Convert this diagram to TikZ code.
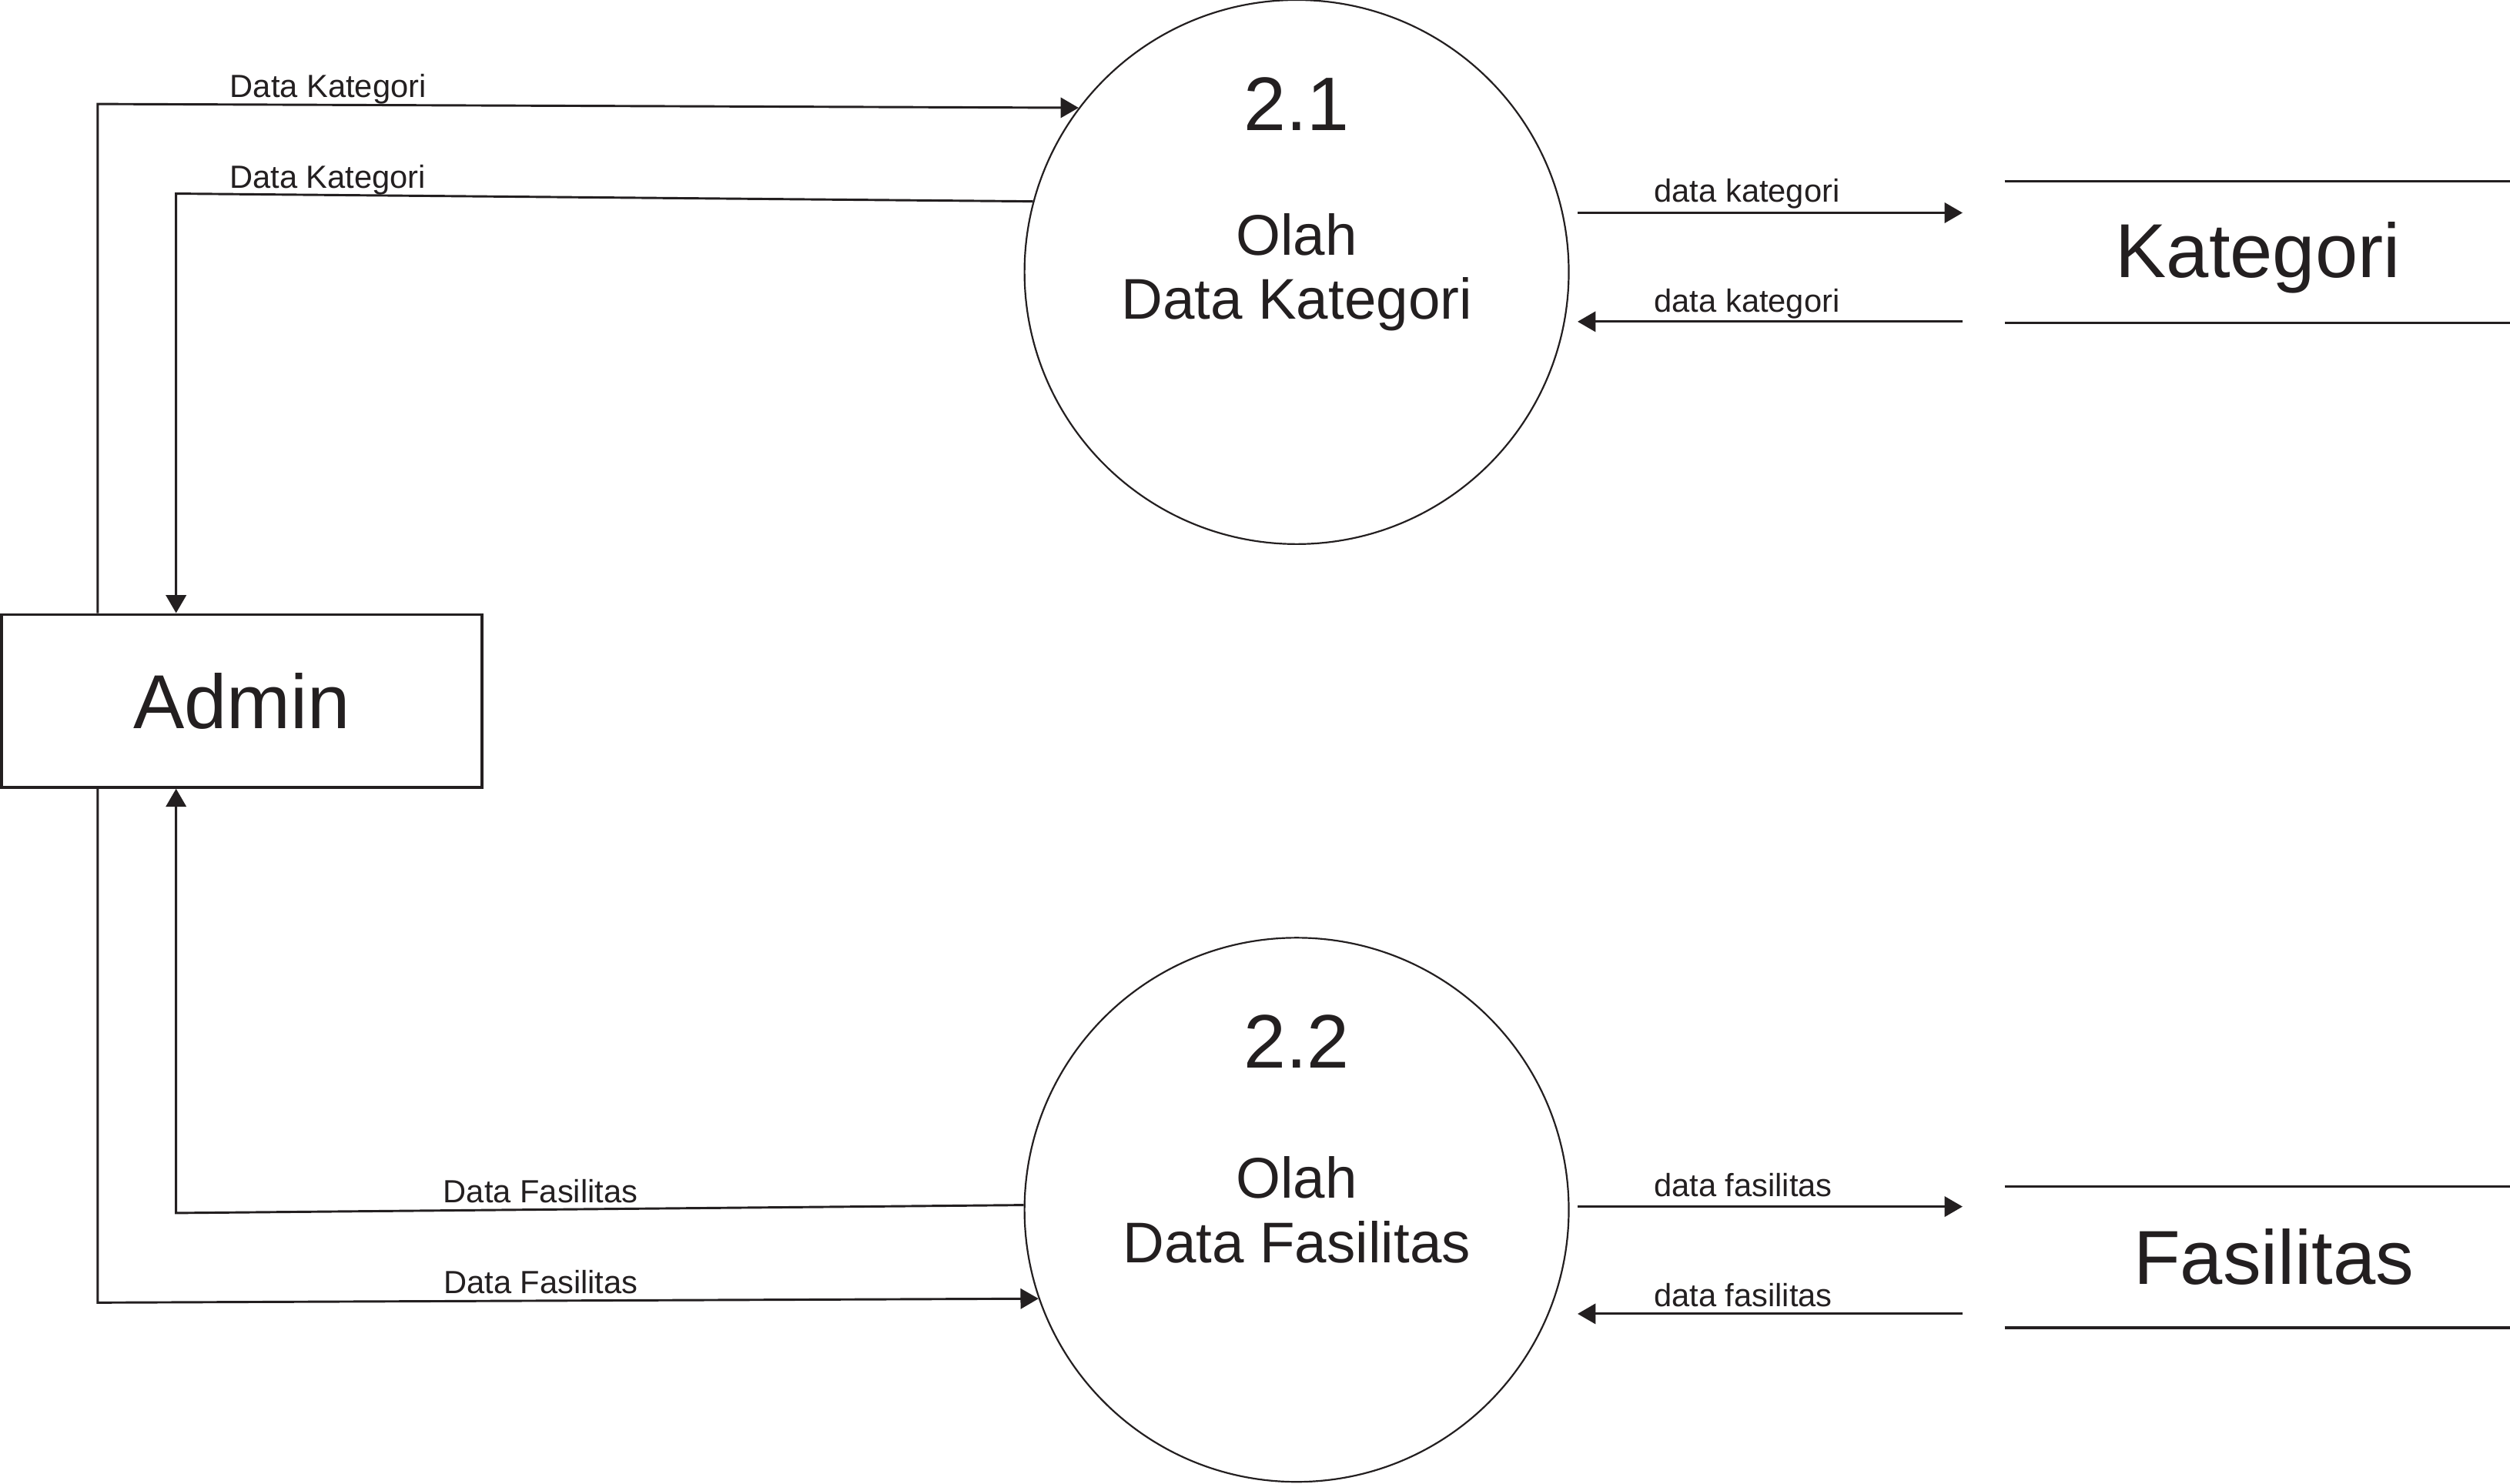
\documentclass[tikz,border=0pt]{standalone}
\usepackage{fontspec}
\setmainfont{Liberation Sans}
\usepackage{tikz}
\usetikzlibrary{arrows.meta}
\definecolor{ink}{HTML}{231F20}

\begin{document}
\begin{tikzpicture}[
	process/.style={circle, draw=ink, line width=0.3pt, minimum size=3.4cm, inner sep=0pt, align=center, text=ink, font=\fontsize{10.2}{11.4}\selectfont},
	entity/.style={rectangle, draw=ink, line width=0.5pt, minimum width=3cm, minimum height=1.08cm, text=ink, font=\fontsize{13.6}{16}\selectfont},
	store/.style={minimum width=3.15cm, minimum height=0.87cm, inner sep=0pt, text=ink, font=\fontsize{13.6}{16}\selectfont},
	nomor/.style={text=ink, font=\fontsize{13.5}{16}\selectfont},
	flow/.style={draw=ink, line width=0.4pt, -{Triangle[length=3.2pt,width=3.6pt]}},
	lbl/.style={text=ink, inner sep=1pt, font=\fontsize{5.7}{6.8}\selectfont}
	]
	\useasboundingbox (0,0) rectangle (15.68,9.27);
	\def\gap{0.05}
	% entitas dan proses
	\node[entity] (admin) at (1.51, 4.89) {Admin};
	\node[process] (p21) at (8.10, 7.57) {Olah\\Data Kategori};
	\node[process] (p22) at (8.10, 1.71) {Olah\\Data Fasilitas};
	\node[nomor] (n21) at ([yshift=1.05cm]p21.center) {2.1};
	\node[nomor] (n22) at ([yshift=1.05cm]p22.center) {2.2};
	% data store
	\node[store, text height=12pt] (kat) at (14.105, 7.695) {Kategori};
	\node[store] (fas) at (14.105, 1.415) {\hspace*{0.2cm}Fasilitas};
	\draw[ink, line width=0.45pt] (kat.north west) -- (kat.north east) (kat.south west) -- (kat.south east);
	\draw[ink, line width=0.45pt] (fas.north west) -- (fas.north east) (fas.south west) -- (fas.south east);
	% titik belok
	\coordinate (c1) at (0.61, 8.62);
	\coordinate (c2) at (1.10, 8.06);
	\coordinate (c3) at (1.10, 1.69);
	\coordinate (c4) at (0.61, 1.13);
	\coordinate (ki) at (12.26, 7.94);
	\coordinate (ko) at (12.26, 7.26);
	\coordinate (fi) at (12.26, 1.73);
	\coordinate (fo) at (12.26, 1.06);
	% alur admin
	\draw[flow] (admin.north -| c1) -- (c1) -- node[lbl, above, pos=0.235, yshift=-1pt] {Data Kategori} (p21.143);
	\draw[flow] (p21.165) -- node[lbl, above, pos=0.823, yshift=-1.2pt] {Data Kategori} (c2) -- (admin.north -| c2);
	\draw[flow] (p22.179) -- node[lbl, above, pos=0.57] {Data Fasilitas} (c3) -- (admin.south -| c3);
	\draw[flow] (admin.south -| c4) -- (c4) -- node[lbl, above, pos=0.471] {Data Fasilitas} (p22.199);
	% alur data store
	\draw[flow] ([xshift=\gap cm]p21.east |- ki) -- node[lbl, above, pos=0.44, yshift=-0.5pt] {data kategori} (ki);
	\draw[flow] (ko) -- node[lbl, above, pos=0.56, yshift=-0.7pt] {data kategori} ([xshift=\gap cm]p21.east |- ko);
	\draw[flow] ([xshift=\gap cm]p22.east |- fi) -- node[lbl, above, pos=0.43, yshift=0.5pt] {data fasilitas} (fi);
	\draw[flow] (fo) -- node[lbl, above, pos=0.57] {data fasilitas} ([xshift=\gap cm]p22.east |- fo);
\end{tikzpicture}
\end{document}
